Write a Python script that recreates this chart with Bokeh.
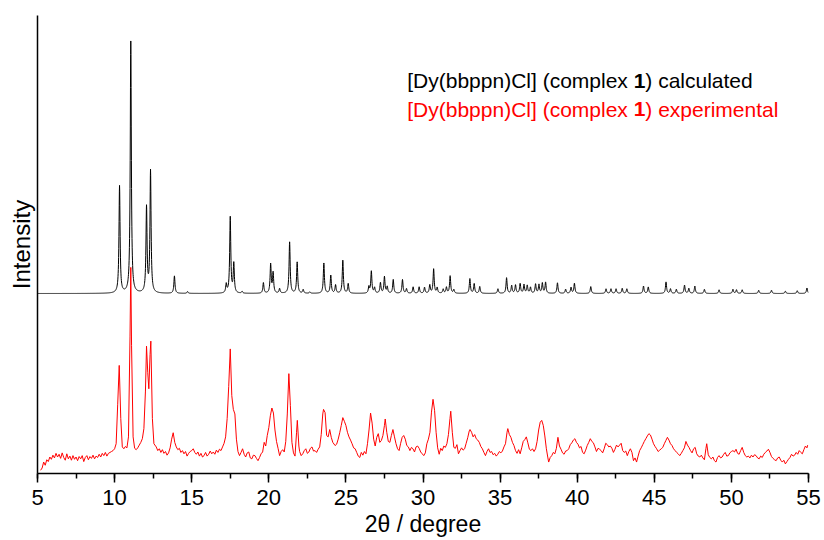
import numpy as np
from bokeh.plotting import figure
from bokeh.models import Range1d, SingleIntervalTicker, FixedTicker, Label
from bokeh.embed import file_html
from bokeh.resources import INLINE

# ---------------- data ----------------
x_ticks = [5, 10, 15, 20, 25, 30, 35, 40, 45, 50, 55]

# calculated pattern: baseline offset and (2theta, peak height above baseline)
calc_baseline = 39.3
calc_peaks = [
    (10.32, 23.4), (11.05, 55.0), (12.07, 18.6), (12.33, 26.6), (13.88, 3.8),
    (14.73, 0.4), (17.24, 1.9), (17.50, 16.6), (17.73, 6.4), (18.27, 0.4),
    (19.65, 2.3), (20.12, 6.3), (20.28, 4.4), (20.70, 1.0), (21.35, 11.2),
    (21.84, 6.8), (22.23, 0.8), (22.66, 0.3), (23.57, 6.6), (24.02, 3.9),
    (24.33, 1.8), (24.80, 7.2), (25.15, 2.1), (26.49, 1.4), (26.65, 4.8),
    (26.86, 1.2), (27.24, 2.3), (27.50, 3.6), (27.68, 1.4), (28.07, 3.0),
    (28.67, 3.0), (28.93, 1.0), (29.36, 1.4), (29.75, 1.4), (30.10, 1.3),
    (30.44, 1.8), (30.69, 5.3), (30.92, 1.2), (31.31, 0.9), (31.52, 1.3),
    (31.76, 3.8), (32.00, 0.8), (33.04, 3.2), (33.32, 2.1), (33.68, 1.5),
    (34.86, 1.0), (35.42, 3.4), (35.75, 1.7), (36.00, 1.8), (36.30, 2.1),
    (36.55, 1.9), (36.76, 1.7), (36.97, 1.3), (37.30, 2.0), (37.52, 1.9),
    (37.74, 2.2), (37.95, 2.4), (38.72, 2.3), (39.25, 0.9), (39.60, 1.3),
    (39.82, 2.2), (40.88, 1.5), (41.87, 1.0), (42.19, 1.0), (42.52, 1.0),
    (42.92, 1.1), (43.22, 1.0), (44.30, 1.6), (44.61, 1.4), (45.76, 2.5),
    (46.05, 1.0), (46.43, 0.9), (46.96, 1.8), (47.24, 1.1), (47.63, 1.6),
    (48.25, 0.9), (49.20, 0.8), (50.10, 0.9), (50.33, 0.8), (50.70, 0.8),
    (51.77, 0.7), (52.60, 0.7), (53.50, 0.5), (54.27, 0.6), (54.90, 1.2),
]
calc_peak_hwhm = 0.042

# experimental pattern: (2theta, intensity)
red_experimental = [
    (5.2, 0.7), (5.3, 1.2), (5.4, 2.5), (5.5, 1.8), (5.6, 3.0), (5.7, 2.6), (5.8, 3.6), (5.9, 3.1),
    (6.0, 4.0), (6.1, 3.4), (6.2, 4.4), (6.3, 3.6), (6.4, 4.2), (6.5, 3.3), (6.6, 4.5), (6.7, 3.5),
    (6.8, 2.9), (6.9, 4.3), (7.0, 3.2), (7.1, 3.8), (7.2, 2.9), (7.3, 3.9), (7.4, 3.1), (7.5, 3.6),
    (7.6, 2.8), (7.7, 3.7), (7.8, 3.2), (7.9, 3.9), (8.0, 2.6), (8.1, 3.5), (8.2, 3.9), (8.3, 3.0),
    (8.4, 3.7), (8.5, 3.3), (8.6, 4.0), (8.7, 3.2), (8.8, 3.8), (8.9, 3.5), (9.0, 4.2), (9.1, 3.6),
    (9.2, 4.4), (9.3, 3.9), (9.4, 4.6), (9.5, 3.8), (9.6, 4.4), (9.7, 4.6), (9.8, 4.8), (9.9, 5.0),
    (10.0, 5.4), (10.1, 6.5), (10.2, 15.0), (10.3, 23.6), (10.4, 12.0), (10.5, 5.8), (10.6, 5.4),
    (10.7, 5.9), (10.8, 5.6), (10.9, 8.0), (11.0, 30.0), (11.05, 45.0), (11.1, 28.0), (11.2, 8.0),
    (11.3, 5.5), (11.4, 5.2), (11.5, 5.6), (11.6, 6.2), (11.7, 6.8), (11.8, 7.6), (11.9, 9.8),
    (12.0, 18.0), (12.07, 27.8), (12.15, 22.0), (12.22, 18.5), (12.3, 26.0), (12.35, 28.9),
    (12.45, 12.0), (12.55, 6.5), (12.7, 5.8), (12.8, 5.0), (12.9, 5.4), (13.0, 4.6), (13.1, 5.2),
    (13.2, 4.4), (13.3, 4.8), (13.4, 4.0), (13.5, 4.5), (13.6, 5.6), (13.7, 7.5), (13.8, 8.9),
    (13.9, 6.8), (14.0, 5.8), (14.1, 5.2), (14.2, 5.5), (14.3, 4.6), (14.4, 5.0), (14.5, 4.3),
    (14.6, 4.8), (14.7, 3.8), (14.8, 4.4), (14.9, 4.8), (15.0, 5.0), (15.1, 5.4), (15.2, 4.6),
    (15.3, 4.2), (15.4, 4.7), (15.5, 3.8), (15.6, 4.4), (15.7, 3.6), (15.8, 3.9), (15.9, 4.6),
    (16.0, 3.8), (16.1, 4.2), (16.2, 4.9), (16.3, 4.3), (16.4, 4.7), (16.5, 4.2), (16.6, 5.1),
    (16.7, 4.6), (16.8, 5.3), (16.9, 5.0), (17.0, 5.8), (17.1, 6.6), (17.2, 8.0), (17.3, 12.0),
    (17.4, 19.0), (17.5, 27.2), (17.6, 17.0), (17.7, 14.0), (17.8, 13.0), (17.9, 7.5), (18.0, 4.8),
    (18.1, 3.9), (18.2, 4.6), (18.3, 5.4), (18.4, 4.2), (18.5, 3.6), (18.6, 4.5), (18.7, 4.7),
    (18.8, 3.4), (18.9, 3.2), (19.0, 4.0), (19.1, 3.9), (19.2, 3.3), (19.3, 2.8), (19.4, 3.5),
    (19.5, 4.3), (19.6, 4.7), (19.7, 6.8), (19.8, 6.0), (19.9, 8.3), (20.0, 10.0), (20.1, 12.6),
    (20.2, 14.3), (20.3, 13.2), (20.4, 9.5), (20.5, 7.0), (20.6, 5.5), (20.7, 3.9), (20.8, 4.8),
    (20.9, 5.2), (21.0, 4.7), (21.1, 7.0), (21.2, 13.0), (21.3, 21.8), (21.4, 14.8), (21.5, 6.8),
    (21.6, 4.5), (21.7, 3.8), (21.8, 9.0), (21.85, 11.6), (21.95, 6.0), (22.0, 4.8), (22.1, 3.9),
    (22.2, 4.3), (22.3, 5.0), (22.4, 5.4), (22.5, 4.4), (22.6, 4.7), (22.7, 5.5), (22.8, 5.8),
    (22.9, 4.9), (23.0, 5.0), (23.1, 4.6), (23.2, 5.3), (23.3, 5.8), (23.4, 8.5), (23.5, 13.0),
    (23.55, 14.0), (23.65, 13.3), (23.75, 8.3), (23.85, 8.0), (23.95, 9.6), (24.05, 7.9),
    (24.15, 6.8), (24.3, 6.1), (24.4, 6.4), (24.5, 7.5), (24.6, 8.9), (24.7, 10.5), (24.8, 12.2),
    (24.9, 11.4), (25.0, 10.5), (25.1, 9.0), (25.2, 8.0), (25.3, 7.3), (25.4, 6.5), (25.5, 5.6),
    (25.6, 5.4), (25.7, 4.6), (25.8, 3.8), (25.9, 3.5), (26.0, 4.6), (26.1, 4.0), (26.2, 4.8),
    (26.3, 4.3), (26.4, 6.5), (26.5, 9.5), (26.6, 13.2), (26.7, 11.0), (26.8, 7.5), (26.9, 6.0),
    (27.0, 7.9), (27.1, 8.7), (27.2, 6.8), (27.3, 7.2), (27.4, 8.3), (27.5, 10.5), (27.55, 11.9),
    (27.65, 9.0), (27.75, 7.0), (27.85, 6.8), (27.95, 8.3), (28.05, 9.6), (28.15, 8.0),
    (28.25, 6.5), (28.35, 5.4), (28.45, 5.0), (28.55, 6.6), (28.65, 7.9), (28.75, 8.3),
    (28.85, 7.5), (28.95, 6.1), (29.05, 5.8), (29.15, 5.0), (29.25, 5.7), (29.35, 5.4),
    (29.45, 4.7), (29.55, 5.8), (29.65, 6.0), (29.75, 5.5), (29.85, 4.7), (29.95, 4.3),
    (30.05, 3.9), (30.15, 4.5), (30.25, 6.5), (30.35, 7.5), (30.45, 9.0), (30.55, 13.4),
    (30.65, 16.2), (30.75, 13.8), (30.85, 9.0), (30.95, 5.6), (31.05, 4.2), (31.15, 5.5),
    (31.25, 5.0), (31.35, 6.0), (31.45, 5.7), (31.55, 6.5), (31.65, 8.5), (31.75, 12.0),
    (31.8, 13.6), (31.9, 9.0), (32.0, 5.7), (32.1, 5.5), (32.2, 6.3), (32.3, 4.3), (32.4, 5.0),
    (32.5, 5.6), (32.6, 5.1), (32.7, 5.4), (32.8, 6.6), (32.9, 7.8), (33.0, 9.3), (33.05, 9.6),
    (33.15, 9.0), (33.25, 8.0), (33.35, 8.5), (33.45, 7.6), (33.55, 7.3), (33.65, 6.8),
    (33.75, 5.9), (33.85, 5.4), (33.95, 4.6), (34.05, 3.9), (34.15, 4.8), (34.25, 5.4),
    (34.35, 4.6), (34.45, 4.8), (34.55, 4.1), (34.65, 4.4), (34.75, 3.8), (34.85, 4.2),
    (34.95, 4.8), (35.05, 4.5), (35.15, 4.9), (35.25, 5.8), (35.35, 6.5), (35.45, 9.0),
    (35.5, 9.8), (35.6, 8.5), (35.7, 7.9), (35.8, 6.8), (35.9, 6.1), (36.0, 5.0), (36.1, 4.4),
    (36.2, 5.2), (36.3, 4.3), (36.4, 5.6), (36.5, 7.0), (36.6, 7.4), (36.7, 8.0), (36.8, 6.7),
    (36.9, 5.3), (37.0, 5.0), (37.1, 5.4), (37.2, 4.8), (37.3, 5.4), (37.4, 7.0), (37.5, 9.5),
    (37.6, 11.2), (37.7, 11.6), (37.8, 10.5), (37.9, 8.2), (38.0, 5.4), (38.1, 3.4), (38.15, 2.5),
    (38.25, 3.5), (38.35, 3.9), (38.45, 4.6), (38.55, 4.3), (38.65, 5.5), (38.75, 7.9),
    (38.85, 6.0), (38.95, 5.3), (39.05, 4.5), (39.15, 4.2), (39.25, 4.9), (39.35, 5.0),
    (39.45, 5.4), (39.55, 6.3), (39.65, 6.7), (39.75, 7.3), (39.85, 7.6), (39.95, 6.8),
    (40.05, 6.4), (40.15, 5.6), (40.25, 5.9), (40.35, 4.6), (40.45, 4.3), (40.55, 5.1),
    (40.65, 6.1), (40.75, 6.8), (40.85, 7.6), (40.95, 7.0), (41.05, 6.7), (41.15, 5.8),
    (41.25, 4.8), (41.35, 5.5), (41.45, 5.3), (41.55, 5.0), (41.65, 4.5), (41.75, 5.4),
    (41.85, 6.6), (41.95, 6.3), (42.05, 5.8), (42.15, 6.0), (42.25, 5.5), (42.35, 4.6),
    (42.45, 5.3), (42.55, 6.2), (42.65, 5.8), (42.75, 6.2), (42.85, 6.6), (42.95, 5.0),
    (43.05, 4.6), (43.15, 4.9), (43.25, 3.9), (43.35, 4.8), (43.45, 5.4), (43.55, 4.6),
    (43.65, 2.8), (43.75, 3.4), (43.85, 2.5), (43.95, 3.8), (44.05, 5.0), (44.15, 5.6),
    (44.25, 6.3), (44.35, 7.0), (44.45, 7.6), (44.55, 8.2), (44.65, 8.7), (44.75, 8.4),
    (44.85, 7.5), (44.95, 6.5), (45.05, 5.9), (45.15, 5.4), (45.25, 4.8), (45.35, 5.1),
    (45.45, 5.4), (45.55, 5.7), (45.65, 6.5), (45.75, 7.2), (45.85, 7.9), (45.95, 7.3),
    (46.05, 6.5), (46.15, 6.1), (46.25, 5.4), (46.35, 5.0), (46.45, 4.6), (46.55, 4.3),
    (46.65, 3.9), (46.75, 4.4), (46.85, 5.0), (46.95, 5.6), (47.05, 7.0), (47.15, 6.2),
    (47.25, 5.7), (47.35, 5.0), (47.45, 4.5), (47.55, 5.4), (47.65, 5.7), (47.75, 4.3),
    (47.85, 3.8), (47.95, 3.6), (48.05, 4.0), (48.15, 3.4), (48.25, 3.0), (48.35, 5.5),
    (48.4, 6.5), (48.5, 4.1), (48.6, 3.5), (48.7, 3.2), (48.8, 3.6), (48.9, 2.8), (49.0, 2.5),
    (49.1, 3.5), (49.2, 3.9), (49.3, 3.4), (49.4, 3.6), (49.5, 4.2), (49.6, 4.6), (49.7, 3.8),
    (49.8, 3.9), (49.9, 4.5), (50.0, 4.8), (50.1, 5.0), (50.2, 4.7), (50.3, 5.3), (50.4, 4.4),
    (50.5, 4.2), (50.6, 5.0), (50.7, 5.7), (50.8, 4.6), (50.9, 3.9), (51.0, 3.6), (51.1, 3.8),
    (51.2, 3.4), (51.3, 4.0), (51.4, 3.6), (51.5, 4.1), (51.6, 3.9), (51.7, 3.4), (51.8, 3.2),
    (51.9, 3.8), (52.0, 3.5), (52.1, 4.2), (52.2, 4.6), (52.3, 4.9), (52.4, 5.3), (52.5, 4.6),
    (52.6, 3.7), (52.7, 3.3), (52.8, 3.0), (52.9, 2.8), (53.0, 3.4), (53.1, 3.6), (53.2, 2.9),
    (53.3, 2.5), (53.4, 2.9), (53.5, 2.1), (53.6, 2.6), (53.7, 3.1), (53.8, 3.5), (53.9, 4.2),
    (54.0, 3.8), (54.1, 4.0), (54.2, 4.6), (54.3, 4.2), (54.4, 5.0), (54.5, 4.6), (54.6, 4.3),
    (54.7, 5.2), (54.8, 6.0), (54.9, 5.6), (54.95, 6.2),
]

legend_prefix = "[Dy(bbppn)Cl] (complex "
legend_bold = "1"
legend_calc_suffix = ") calculated"
legend_exp_suffix = ") experimental"

# ---------------- build curves ----------------
peak_pos = np.array([p[0] for p in calc_peaks])
peak_h = np.array([p[1] for p in calc_peaks])
calc_x = np.union1d(np.round(np.arange(5.0, 55.0001, 0.01), 3), peak_pos)
g2 = calc_peak_hwhm ** 2
calc_y = calc_baseline + (peak_h[None, :] * g2 /
                          ((calc_x[:, None] - peak_pos[None, :]) ** 2 + g2)).sum(axis=1)

red_x = [pt[0] for pt in red_experimental]
red_y = [pt[1] for pt in red_experimental]

# ---------------- figure ----------------
FONT = "Liberation Sans"
p = figure(width=824, height=540, output_backend="svg", toolbar_location=None,
           x_range=Range1d(5, 55), y_range=Range1d(0, 100),
           min_border_left=37, min_border_right=16, min_border_top=15,
           min_border_bottom=67)
p.outline_line_color = None
p.xgrid.visible = False
p.ygrid.visible = False
p.background_fill_color = "white"
p.border_fill_color = "white"

p.line(calc_x, calc_y, line_color="black", line_width=1)
p.line(red_x, red_y, line_color="#ff0000", line_width=1)

# x axis
xa = p.xaxis[0]
xa.ticker = SingleIntervalTicker(interval=5, num_minor_ticks=2)
xa.axis_line_width = 1.5
xa.major_tick_line_width = 1.5
xa.minor_tick_line_width = 1.5
xa.major_tick_out = 9
xa.major_tick_in = 0
xa.minor_tick_out = 5
xa.minor_tick_in = 0
xa.major_label_text_font = FONT
xa.major_label_text_font_size = "22px"
xa.major_label_text_color = "black"
xa.major_label_standoff = 7
xa.axis_label = "2θ / degree"
xa.axis_label_text_font = FONT
xa.axis_label_text_font_size = "23px"
xa.axis_label_text_font_style = "normal"
xa.axis_label_text_color = "black"
xa.axis_label_standoff = 3

# y axis
ya = p.yaxis[0]
ya.ticker = FixedTicker(ticks=[])
ya.axis_line_width = 1.5
ya.major_tick_line_color = None
ya.minor_tick_line_color = None
ya.axis_label = "Intensity"
ya.axis_label_text_font = FONT
ya.axis_label_text_font_size = "24px"
ya.axis_label_text_font_style = "normal"
ya.axis_label_text_color = "black"
ya.axis_label_standoff = 3

# legend-like text (colored, "1" in bold)
fs = 21
w_prefix = 10.78 * fs
w_bold = 0.556 * fs
for yv, color, suffix in [(85.8, "black", legend_calc_suffix),
                          (79.5, "#ff0000", legend_exp_suffix)]:
    for txt, off, style in [(legend_prefix, 0, "normal"),
                            (legend_bold, w_prefix, "bold"),
                            (suffix, w_prefix + w_bold, "normal")]:
        p.add_layout(Label(x=28.98, y=yv, x_offset=off, text=txt,
                           text_font=FONT, text_font_size=f"{fs}px",
                           text_font_style=style, text_color=color,
                           text_baseline="alphabetic", text_align="left"))

open("out.html", "w").write(file_html(p, INLINE))
